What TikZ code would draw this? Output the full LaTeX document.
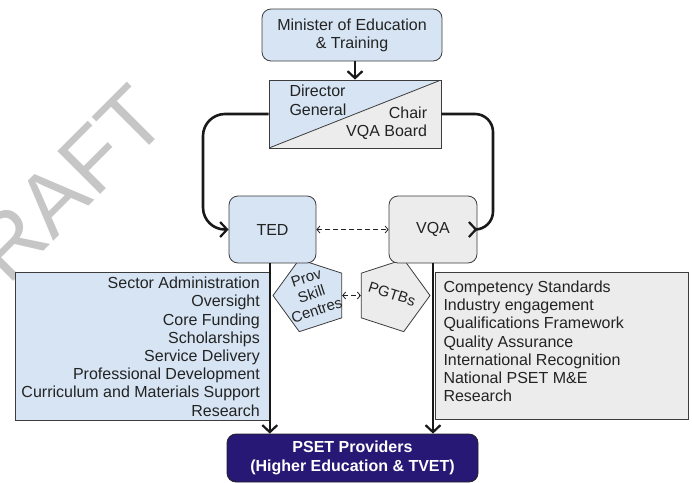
\documentclass[tikz,border=0pt]{standalone}
\usepackage{fontspec}
\setmainfont{Liberation Sans}
\usetikzlibrary{arrows.meta,shapes.geometric}
\definecolor{lblue}{RGB}{214,228,243}
\definecolor{lgray}{RGB}{236,236,236}
\definecolor{navy}{RGB}{40,24,118}
\definecolor{edge}{RGB}{60,60,60}
\definecolor{ink}{RGB}{35,35,35}
\definecolor{wmark}{RGB}{198,198,198}
\begin{document}
\begin{tikzpicture}[x=1pt,y=-1pt,
  box/.style={draw=edge,line width=0.8pt,inner sep=0pt},
  txt/.style={text=ink,font=\fontsize{16}{18.2}\selectfont,inner sep=0pt},
  thickarrow/.style={line width=2.6pt,draw=black!90,-{Straight Barb[length=7pt,width=15pt,line width=2.2pt]}},
  dasharrow/.style={line width=0.8pt,draw=ink,dash pattern=on 5pt off 3pt,{Straight Barb[length=3pt,width=7pt]}-{Straight Barb[length=3pt,width=7pt]}},
  penta/.style={regular polygon,regular polygon sides=5,draw=edge,line width=0.8pt,minimum size=76pt,inner sep=0pt}
]
\useasboundingbox (0,0) rectangle (692,482);
% watermark
\node[text=wmark,font=\fontsize{88}{88}\selectfont,rotate=45,anchor=base east,inner sep=0pt] (draft) at (171.6,123.4) {DRAFT};
% top
\node[box,fill=lblue,rounded corners=9pt,minimum width=180pt,minimum height=52pt,align=center,txt] (min) at (352,35) {Minister of Education\\\& Training};
\node[box,fill=lblue,minimum width=172pt,minimum height=68pt,
  path picture={\fill[lgray] (path picture bounding box.south west) -- (path picture bounding box.north east) -- (path picture bounding box.south east) -- cycle;
  \draw[edge,line width=0.8pt] (path picture bounding box.south west) -- (path picture bounding box.north east);}] (dg) at (355,114) {};
\node[txt,align=left,anchor=base west] (dgl) at (289.3,115) {Director\\General};
\node[txt,align=right,anchor=base east] (dgr) at (427.3,136.7) {Chair\\VQA Board};
\draw[thickarrow] (min.south -| dg.north) -- (dg.north);
% lists
\node[box,fill=lblue,minimum width=254pt,minimum height=148pt,anchor=north west] (lbox) at (15,272) {};
\node[txt,align=right,anchor=base east] (ltext) at (260,416) {Sector Administration\\Oversight\\Core Funding\\Scholarships\\Service Delivery\\Professional Development\\Curriculum and Materials Support\\Research};
\node[box,fill=lgray,minimum width=253pt,minimum height=147pt,anchor=north west] (rbox) at (435,272) {};
\node[txt,align=left,anchor=base west] (rtext) at (443.3,401.7) {Competency Standards\\Industry engagement\\Qualifications Framework\\Quality Assurance\\International Recognition\\National PSET M\&E\\Research};
% pentagons
\node[penta,fill=lblue,rotate=18] (prov) at (311,295.5) {};
\node[txt,font=\fontsize{15}{17}\selectfont,align=center,rotate=18] (provt) at (311.5,294) {Prov\\Skill\\Centres};
\node[penta,fill=lgray,rotate=-18] (pgtb) at (392,295.5) {};
\node[txt,font=\fontsize{15}{17}\selectfont,rotate=-18] (pgtbt) at (392,294) {PGTBs};
\draw[dasharrow] (prov.-18) -- (pgtb.198);
% TED / VQA
\node[box,fill=lblue,rounded corners=9pt,minimum width=87pt,minimum height=67pt,txt] (ted) at (272.5,229.5) {TED};
\node[box,fill=lgray,rounded corners=9pt,minimum width=88pt,minimum height=67pt,txt] (vqa) at (433,229.5) {VQA};
\draw[dasharrow] (ted.east) -- (vqa.west);
\draw[thickarrow,rounded corners=22pt] (dg.west) -- (203,114) -- (203,229.5) -- (ted.west);
\draw[thickarrow,rounded corners=18pt] (dg.east) -- (493,114) -- (493,229.5) -- (vqa.east);
% bottom
\node[draw=ink,line width=0.8pt,fill=navy,rounded corners=9pt,minimum width=251pt,minimum height=48pt,text=white,font=\bfseries\fontsize{16}{18.5}\selectfont,align=center,inner sep=0pt] (pset) at (352.5,458) {PSET Providers\\(Higher Education \& TVET)};
\draw[thickarrow] (ted.south -| lbox.east) -- (pset.north -| lbox.east);
\draw[thickarrow] (vqa.south) -- (vqa.south |- pset.north);
\end{tikzpicture}
\end{document}
